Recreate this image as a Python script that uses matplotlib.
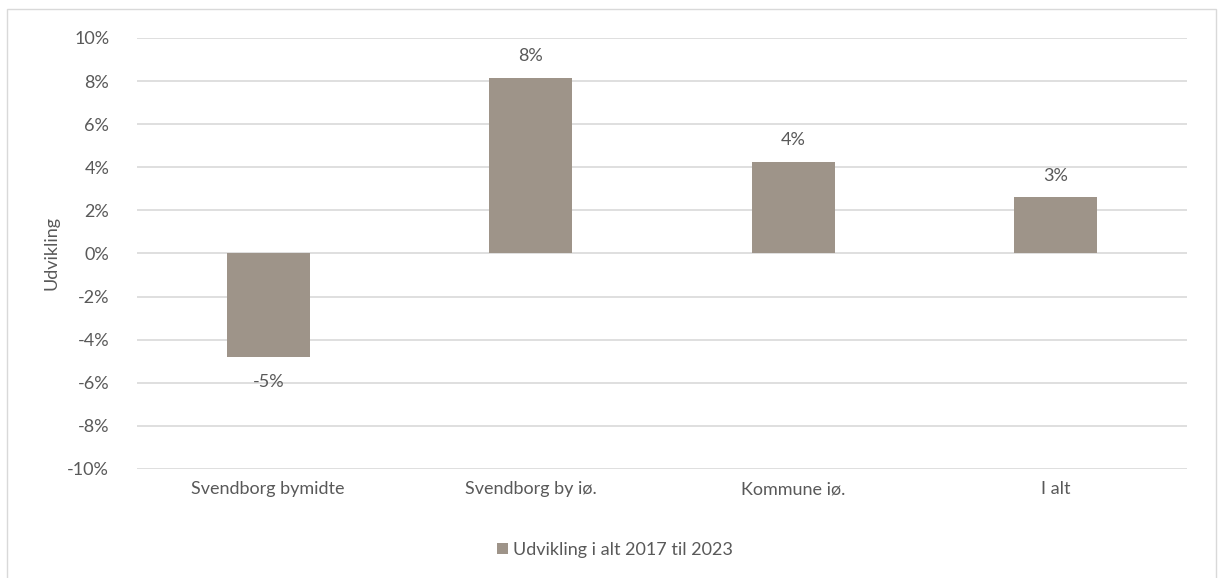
import matplotlib.pyplot as plt
import matplotlib.patches as patches
import numpy as np

# data
categories = ["Svendborg bymidte", "Svendborg by iø.", "Kommune iø.", "I alt"]
values = [-0.048, 0.0815, 0.0425, 0.026]
series_name = "Udvikling i alt 2017 til 2023"
yticks = [-0.10, -0.08, -0.06, -0.04, -0.02, 0.0, 0.02, 0.04, 0.06, 0.08, 0.10]

bar_color = "#9e9489"
text_color = "#595959"
grid_color = "#d9d9d9"
fs = 13

plt.rcParams["font.family"] = ["Lato", "DejaVu Sans"]

fig = plt.figure(figsize=(12.22, 5.78), dpi=100)
ax = fig.add_axes([0.1121, 0.1886, 0.8592, 0.7457])

# outer chart border
fig.patches.append(patches.Rectangle((7 / 1222, -0.01), 1209 / 1222, 1 - 9 / 578 + 0.01,
                                     transform=fig.transFigure, fill=False,
                                     edgecolor=grid_color, linewidth=1))

x = np.arange(len(categories))
bars = ax.bar(x, values, width=0.316, color=bar_color, label=series_name, zorder=3)

for xi, v in zip(x, values):
    label = "{:.0f}%".format(v * 100)
    if v >= 0:
        ax.annotate(label, (xi, v), xytext=(0, 10), textcoords="offset points",
                    ha="center", va="bottom", color=text_color, fontsize=fs)
    else:
        ax.annotate(label, (xi, v), xytext=(0, -12), textcoords="offset points",
                    ha="center", va="top", color=text_color, fontsize=fs)

ax.set_xlim(-0.5, len(categories) - 0.5)
ax.set_ylim(-0.10, 0.10)
ax.set_yticks(yticks)
ax.set_yticklabels(["{:.0f}%".format(t * 100) for t in yticks])
ax.set_xticks(x)
ax.set_xticklabels(categories)
ax.tick_params(axis="both", length=0, colors=text_color, labelsize=fs)
ax.tick_params(axis="y", pad=20)
ax.tick_params(axis="x", pad=9)
ax.yaxis.grid(True, color=grid_color, linewidth=1.2, zorder=0)
for s in ax.spines.values():
    s.set_visible(False)

ax.set_ylabel("Udvikling", color=text_color, fontsize=fs, labelpad=6)

fig.legend(handles=[bars], labels=[series_name], loc="center",
           bbox_to_anchor=(615 / 1222, 1 - 550 / 578), frameon=False,
           fontsize=fs, labelcolor=text_color, handlelength=0.6, handleheight=0.6,
           handletextpad=0.3)

plt.savefig("out.png", dpi=100)
